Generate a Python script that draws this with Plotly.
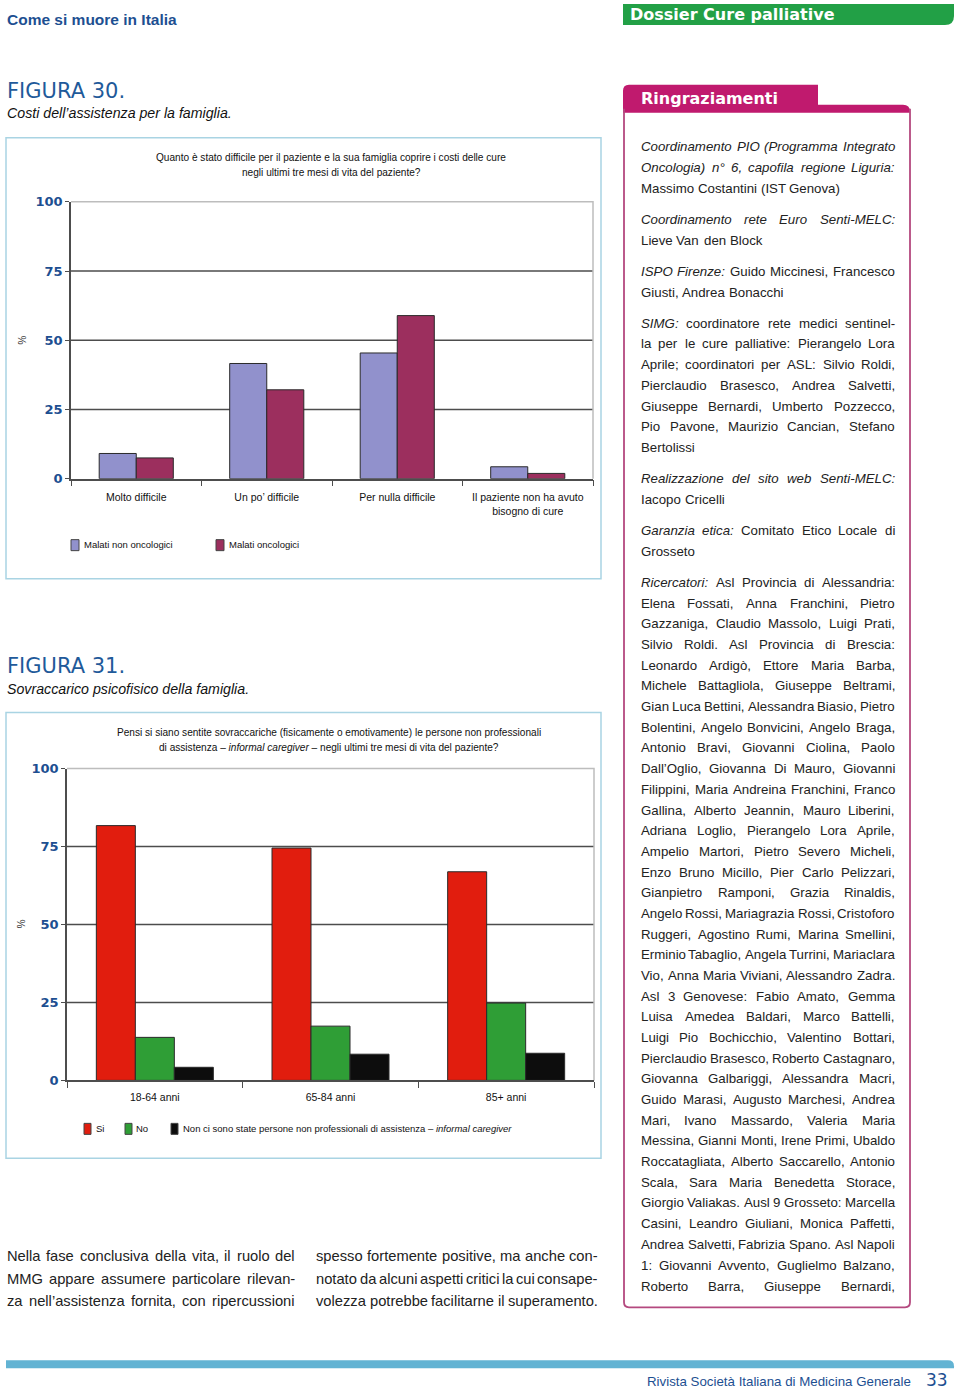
import re
import plotly.graph_objects as go

W, H = 960, 1393
# measured page placement of the figure in the photographed page (offset / vertical scale)
CAL_A, CAL_B = 6.1, 0.9897


def px(x):
    return x / W


def py(y):
    return 1 - ((y - CAL_A) / CAL_B) / H


# ---------------- DATA ----------------
fig30_categories = ["Molto difficile", "Un po’ difficile", "Per nulla difficile",
                    "Il paziente non ha avuto<br>bisogno di cure"]
fig30_non_onc = [9.1, 41.6, 45.4, 4.3]
fig30_onc = [7.5, 32.1, 58.9, 1.9]

fig31_categories = ["18-64 anni", "65-84 anni", "85+ anni"]
fig31_si = [81.7, 74.5, 66.9]
fig31_no = [13.8, 17.4, 24.8]
fig31_none = [4.2, 8.4, 8.7]

y_ticks = [0, 25, 50, 75, 100]

ringraziamenti_lines = [
    (146, "<i>Coordinamento PIO (Programma Integrato</i>"),
    (167, "<i>Oncologia) n° 6, capofila regione Liguria:</i>"),
    (188, "Massimo Costantini (IST Genova)"),
    (219, "<i>Coordinamento rete Euro Senti-MELC:</i>"),
    (240, "Lieve Van den Block"),
    (271, "<i>ISPO Firenze:</i> Guido Miccinesi, Francesco"),
    (292, "Giusti, Andrea Bonacchi"),
    (323, "<i>SIMG:</i> coordinatore rete medici sentinel-"),
    (343, "la per le cure palliative: Pierangelo Lora"),
    (364, "Aprile; coordinatori per ASL: Silvio Roldi,"),
    (385, "Pierclaudio Brasesco, Andrea Salvetti,"),
    (406, "Giuseppe Bernardi, Umberto Pozzecco,"),
    (426, "Pio Pavone, Maurizio Cancian, Stefano"),
    (447, "Bertolissi"),
    (478, "<i>Realizzazione del sito web Senti-MELC:</i>"),
    (499, "Iacopo Cricelli"),
    (530, "<i>Garanzia etica:</i> Comitato Etico Locale di"),
    (551, "Grosseto"),
    (582, "<i>Ricercatori:</i> Asl Provincia di Alessandria:"),
    (603, "Elena Fossati, Anna Franchini, Pietro"),
    (623, "Gazzaniga, Claudio Massolo, Luigi Prati,"),
    (644, "Silvio Roldi. Asl Provincia di Brescia:"),
    (665, "Leonardo Ardigò, Ettore Maria Barba,"),
    (685, "Michele Battagliola, Giuseppe Beltrami,"),
    (706, "Gian Luca Bettini, Alessandra Biasio, Pietro"),
    (727, "Bolentini, Angelo Bonvicini, Angelo Braga,"),
    (747, "Antonio Bravi, Giovanni Ciolina, Paolo"),
    (768, "Dall’Oglio, Giovanna Di Mauro, Giovanni"),
    (789, "Filippini, Maria Andreina Franchini, Franco"),
    (810, "Gallina, Alberto Jeannin, Mauro Liberini,"),
    (830, "Adriana Loglio, Pierangelo Lora Aprile,"),
    (851, "Ampelio Martori, Pietro Severo Micheli,"),
    (872, "Enzo Bruno Micillo, Pier Carlo Pelizzari,"),
    (892, "Gianpietro Ramponi, Grazia Rinaldis,"),
    (913, "Angelo Rossi, Mariagrazia Rossi, Cristoforo"),
    (934, "Ruggeri, Agostino Rumi, Marina Smellini,"),
    (954, "Erminio Tabaglio, Angela Turrini, Mariaclara"),
    (975, "Vio, Anna Maria Viviani, Alessandro Zadra."),
    (996, "Asl 3 Genovese: Fabio Amato, Gemma"),
    (1016, "Luisa Amedea Baldari, Marco Battelli,"),
    (1037, "Luigi Pio Bochicchio, Valentino Bottari,"),
    (1058, "Pierclaudio Brasesco, Roberto Castagnaro,"),
    (1078, "Giovanna Galbariggi, Alessandra Macri,"),
    (1099, "Guido Marasi, Augusto Marchesi, Andrea"),
    (1120, "Mari, Ivano Massardo, Valeria Maria"),
    (1140, "Messina, Gianni Monti, Irene Primi, Ubaldo"),
    (1161, "Roccatagliata, Alberto Saccarello, Antonio"),
    (1182, "Scala, Sara Maria Benedetta Storace,"),
    (1202, "Giorgio Valiakas. Ausl 9 Grosseto: Marcella"),
    (1223, "Casini, Leandro Giuliani, Monica Paffetti,"),
    (1244, "Andrea Salvetti, Fabrizia Spano. Asl Napoli"),
    (1265, "1: Giovanni Avvento, Guglielmo Balzano,"),
    (1286, "Roberto Barra, Giuseppe Bernardi,"),
]
# lines that end a paragraph (not justified)
ringraziamenti_paragraph_ends = [188, 240, 292, 447, 499, 551]

body_col1 = ["Nella fase conclusiva della vita, il ruolo del",
             "MMG appare assumere particolare rilevan-",
             "za nell’assistenza fornita, con ripercussioni"]
body_col2 = ["spesso fortemente positive, ma anche con-",
             "notato da alcuni aspetti critici la cui consape-",
             "volezza potrebbe facilitarne il superamento."]

# ---------------- STYLE ----------------
NARROW = "Liberation Sans, Arial, sans-serif"
SANS = "Liberation Sans, Arial, sans-serif"
WIDE = "DejaVu Sans, Verdana, sans-serif"
BLUE = "#1d4f91"
GRID = "#4d4d4d"
FRAME = "#bdbdbd"
C_NONONC = "#9191cc"
C_ONC = "#9c2f5e"
C_SI = "#e11d0e"
C_NO = "#2f9e36"
C_NONE = "#0d0d0d"
MAGENTA = "#c01a6e"

fig = go.Figure()

# Figure 30 bars
bw30 = 0.284
fig.add_trace(go.Bar(x=fig30_categories, y=fig30_non_onc, name="Malati non oncologici",
                     marker=dict(color=C_NONONC, line=dict(color="#2a2a2a", width=1)),
                     width=bw30, offset=-bw30, xaxis="x", yaxis="y", showlegend=False))
fig.add_trace(go.Bar(x=fig30_categories, y=fig30_onc, name="Malati oncologici",
                     marker=dict(color=C_ONC, line=dict(color="#2a2a2a", width=1)),
                     width=bw30, offset=0, xaxis="x", yaxis="y", showlegend=False))

# Figure 31 bars
bw31 = 0.222
for vals, col, nm, k in [(fig31_si, C_SI, "Si", -1.5), (fig31_no, C_NO, "No", -0.5),
                         (fig31_none, C_NONE, "Non ci sono state persone", 0.5)]:
    fig.add_trace(go.Bar(x=fig31_categories, y=vals, name=nm,
                         marker=dict(color=col, line=dict(color="#2a2a2a", width=1)),
                         width=bw31, offset=k * bw31, xaxis="x2", yaxis="y2", showlegend=False))

yax = dict(range=[0, 100], tickvals=y_ticks, showgrid=False,
           showline=True, linecolor=GRID, linewidth=1.5, ticks="outside", ticklen=4,
           tickcolor=GRID, zeroline=False, fixedrange=True,
           tickfont=dict(family=WIDE, size=13, color=BLUE, weight="bold"))
xax = dict(showline=True, linecolor=GRID, linewidth=1.5, ticks="outside", tickson="boundaries",
           ticklen=6, tickcolor=GRID, showgrid=False, fixedrange=True, tickangle=0,
           tickfont=dict(family=NARROW, size=10.5, color="#111"))

fig.update_layout(
    width=W, height=H, margin=dict(l=0, r=0, t=0, b=0), autosize=False,
    paper_bgcolor="white", plot_bgcolor="white", barmode="overlay", showlegend=False,
    xaxis=dict(domain=[px(71), px(593)], anchor="y", ticklabelstandoff=8, **xax),
    yaxis=dict(domain=[py(478), py(201)], anchor="x", **yax),
    xaxis2=dict(domain=[px(67), px(594)], anchor="y2", ticklabelstandoff=6, **xax),
    yaxis2=dict(domain=[py(1080), py(768)], anchor="x2", **yax),
)

annotations = []
shapes = []

# gridlines (dark) at inner ticks, light frame on top/right of each plot area
for xr, yr in [("x", "y"), ("x2", "y2")]:
    for v in y_ticks[1:-1]:
        shapes.append(dict(type="line", xref=f"{xr} domain", yref=yr, x0=0, x1=1, y0=v, y1=v,
                           line=dict(color=GRID, width=1.5), layer="below"))
    shapes.append(dict(type="path", xref=f"{xr} domain", yref=f"{yr} domain",
                       path="M0,1 L1,1 L1,0", line=dict(color=FRAME, width=1.5), layer="below"))


def T(x, y, text, size=11, color="#111", family=NARROW, xa="left", ya="middle", angle=0):
    annotations.append(dict(x=px(x), y=py(y), xref="paper", yref="paper", text=text,
                            showarrow=False, xanchor=xa, yanchor=ya, textangle=angle,
                            font=dict(size=size, color=color, family=family),
                            borderpad=0))


def R(x0, y0, x1, y1, line=None, fill=None, lw=1.5):
    shapes.append(dict(type="rect", xref="paper", yref="paper", x0=px(x0), x1=px(x1),
                       y0=py(y0), y1=py(y1), fillcolor=fill,
                       line=dict(color=line if line else "rgba(0,0,0,0)", width=lw if line else 0)))


def P(x, y):
    return f"{px(x):.5f},{py(y):.5f}"


def PATH(d, fill=None, line=None, lw=1.5):
    shapes.append(dict(type="path", xref="paper", yref="paper", path=d, fillcolor=fill,
                       line=dict(color=line if line else "rgba(0,0,0,0)", width=lw if line else 0)))


# ---- justified text helpers (Liberation Sans = Arial metrics, 1/1000 em) ----
_AW = {" ": 278, ",": 278, ".": 278, ":": 278, ";": 278, "-": 333, "(": 333, ")": 333,
       "’": 222, "'": 191, "°": 400, "–": 556,
       "A": 667, "B": 667, "C": 722, "D": 722, "E": 667, "F": 611, "G": 778, "H": 722,
       "I": 278, "J": 500, "K": 667, "L": 556, "M": 833, "N": 722, "O": 778, "P": 667,
       "Q": 778, "R": 722, "S": 667, "T": 611, "U": 722, "V": 667, "W": 944, "X": 667,
       "Y": 667, "Z": 611,
       "a": 556, "b": 556, "c": 500, "d": 556, "e": 556, "f": 278, "g": 556, "h": 556,
       "i": 222, "j": 222, "k": 500, "l": 222, "m": 833, "n": 556, "o": 556, "p": 556,
       "q": 556, "r": 333, "s": 500, "t": 278, "u": 556, "v": 500, "w": 722, "x": 500,
       "y": 500, "z": 500, "ò": 556, "è": 556, "à": 556, "é": 556, "ù": 556, "ì": 278}


def em(s):
    return sum(_AW.get(ch, 556) for ch in s) / 1000.0


def words_of(line):
    out, ital = [], False
    for seg in re.split(r"(<i>|</i>)", line):
        if seg == "<i>":
            ital = True
        elif seg == "</i>":
            ital = False
        else:
            for w in seg.split(" "):
                if w:
                    out.append((w, ital))
    return out


def fit_size(lines, width, cap):
    best = cap
    for ln in lines:
        ws = words_of(ln)
        nat = sum(em(w) for w, _ in ws) + 0.65 * em(" ") * (len(ws) - 1)
        best = min(best, width / nat)
    return best


def justified(x0, x1, y, line, size, justify=True, color="#222"):
    ws = words_of(line)
    widths = [em(w) * size for w, _ in ws]
    if justify and len(ws) > 1:
        gap = (x1 - x0 - sum(widths)) / (len(ws) - 1)
    else:
        gap = em(" ") * size
    x = x0
    for (w, it), wd in zip(ws, widths):
        T(x, y, f"<i>{w}</i>" if it else w, size, color, NARROW)
        x += wd + gap


# Header
T(6, 19, "<b>Come si muore in Italia</b>", 15.5, BLUE, SANS)
PATH(f"M{P(623,3)} L{P(954,3)} L{P(954,15)} Q{P(954,24)} {P(945,24)} L{P(623,24)} Z", fill="#22a046")
T(629, 14, "<b>Dossier Cure palliative</b>", 16, "white", WIDE)

# Figure 30 heading
T(6, 90, "FIGURA 30.", 21, "#1f5a9a", WIDE)
T(6, 112, "<i>Costi dell’assistenza per la famiglia.</i>", 14.2, "#111", NARROW)
R(6, 137, 601, 578, line="#a9d4e3", lw=1.5)
T(331, 157, "Quanto è stato difficile per il paziente e la sua famiglia coprire i costi delle cure", 10.1, "#111", NARROW, xa="center")
T(331, 172, "negli ultimi tre mesi di vita del paziente?", 10.1, "#111", NARROW, xa="center")
T(21, 339, "%", 10, "#333", SANS, xa="center", angle=90)
# legend 30
R(71, 539, 79, 550, line="#444", fill=C_NONONC, lw=1)
T(83, 544, "Malati non oncologici", 9.5, "#111", NARROW)
R(216, 539, 224, 550, line="#444", fill=C_ONC, lw=1)
T(228, 544, "Malati oncologici", 9.5, "#111", NARROW)

# Figure 31 heading
T(6, 665, "FIGURA 31.", 21, "#1f5a9a", WIDE)
T(6, 688, "<i>Sovraccarico psicofisico della famiglia.</i>", 14.2, "#111", NARROW)
R(6, 712, 601, 1158, line="#a9d4e3", lw=1.5)
T(329, 732, "Pensi si siano sentite sovraccariche (fisicamente o emotivamente) le persone non professionali", 10.1, "#111", NARROW, xa="center")
T(329, 747, "di assistenza – <i>informal caregiver</i> – negli ultimi tre mesi di vita del paziente?", 10.1, "#111", NARROW, xa="center")
T(21, 923, "%", 10, "#333", SANS, xa="center", angle=90)
# legend 31
R(84, 1123, 91, 1134, line="#444", fill=C_SI, lw=1)
T(95, 1128, "Si", 9.5, "#111", NARROW)
R(125, 1123, 132, 1134, line="#444", fill=C_NO, lw=1)
T(135, 1128, "No", 9.5, "#111", NARROW)
R(171, 1123, 178, 1134, line="#444", fill=C_NONE, lw=1)
T(182, 1128, "Non ci sono state persone non professionali di assistenza – <i>informal caregiver</i>", 9.5, "#111", NARROW)

# Ringraziamenti box
PATH(f"M{P(623,112)} L{P(623,90)} Q{P(623,84)} {P(629,84)} L{P(818,84)} L{P(818,104)} "
     f"L{P(903,104)} Q{P(910,104)} {P(910,111)} L{P(910,112)} Z", fill=MAGENTA)
PATH(f"M{P(624,108)} L{P(624,1302)} Q{P(624,1307)} {P(629,1307)} L{P(905,1307)} "
     f"Q{P(910,1307)} {P(910,1302)} L{P(910,108)}", line="#b4497f", lw=1.8)
T(640, 98, "<b>Ringraziamenti</b>", 16, "white", WIDE)

RX0, RX1 = 640, 894
just_lines = [ln for yy, ln in ringraziamenti_lines if yy not in ringraziamenti_paragraph_ends]
r_size = fit_size(just_lines, RX1 - RX0, 14.5)
for yy, line in ringraziamenti_lines:
    justified(RX0, RX1, yy, line, r_size, justify=yy not in ringraziamenti_paragraph_ends)

# Body text
b_size = min(fit_size(body_col1, 288, 16), fit_size(body_col2, 282, 16))
for i, line in enumerate(body_col1):
    justified(6, 294, 1256 + i * 22.5, line, b_size)
for i, line in enumerate(body_col2):
    justified(315, 597, 1256 + i * 22.5, line, b_size)

# Footer
PATH(f"M{P(6,1360)} L{P(948,1360)} Q{P(954,1360)} {P(954,1366)} L{P(954,1368)} L{P(6,1368)} Z", fill="#62b3d3")
T(912, 1381, "Rivista Società Italiana di Medicina Generale", 13.3, BLUE, NARROW, xa="right")
T(937, 1380, "33", 17, BLUE, WIDE, xa="center")

fig.update_layout(annotations=annotations, shapes=shapes)

fig.write_html("out.html")
